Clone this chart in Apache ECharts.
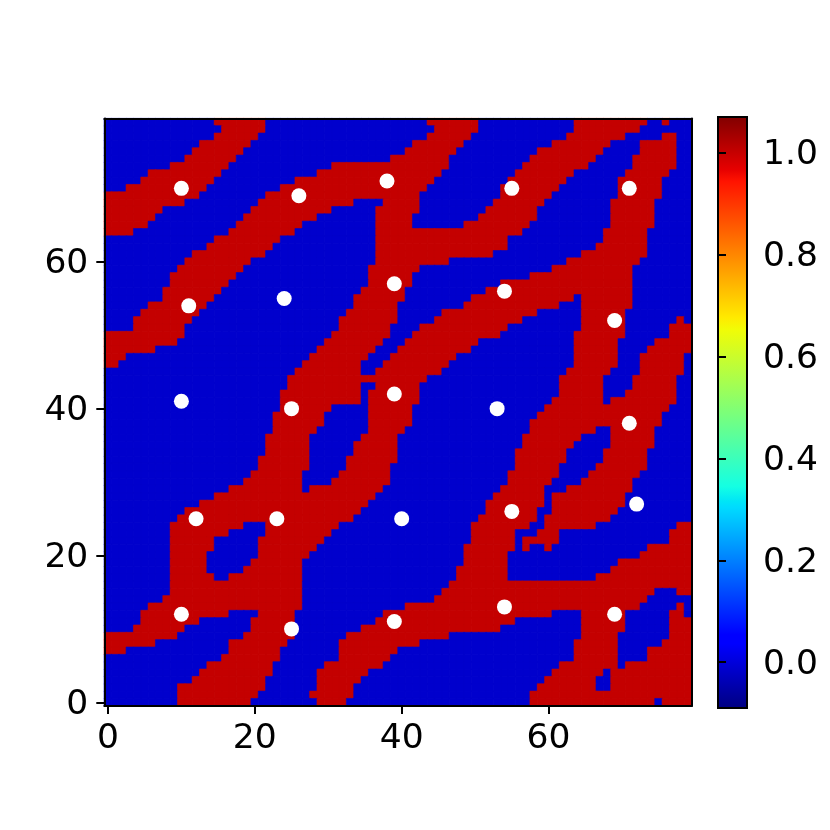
<!DOCTYPE html>
<html><head><meta charset="utf-8">
<style>html,body{margin:0;padding:0;background:#fff}#c{width:830px;height:830px}</style>
<script src="https://cdn.jsdelivr.net/npm/echarts@6/dist/echarts.min.js"></script>
</head><body><div id="c"></div>
<script>
// Red runs [start, end) per image row, top row (y = 79) first
const redRuns = [
[15,22,44,51,64,74,76,77],
[16,22,45,51,64,73],
[15,21,44,50,63,71,76,78],
[13,20,42,49,61,69,73,78],
[12,19,41,48,59,68,73,78],
[11,18,39,47,58,67,72,78],
[9,17,31,47,57,66,72,78],
[6,16,29,46,56,64,71,77],
[5,15,26,45,55,63,70,76],
[3,14,24,44,54,62,70,76],
[0,13,22,43,54,61,70,76],
[0,11,21,34,38,43,53,60,69,75],
[0,8,20,31,37,43,52,59,69,75],
[0,7,19,29,37,42,51,59,69,75],
[0,6,18,27,37,42,49,58,69,75],
[0,4,17,26,37,57,68,74],
[15,24,37,55,68,74],
[14,23,37,55,67,74],
[12,22,37,53,65,74],
[11,20,37,47,63,73],
[10,19,36,43,61,72],
[9,18,36,42,58,72],
[9,17,36,42,54,72],
[8,16,35,41,52,72],
[8,15,34,41,50,64,65,72],
[6,14,34,40,49,62,65,72],
[5,13,33,40,46,59,65,71],
[4,12,32,40,45,57,65,71,78,79],
[4,11,32,39,43,55,65,71,77,80],
[0,11,31,39,42,54,64,71,77,80],
[0,10,30,38,41,51,64,70,75,80],
[0,7,29,37,40,50,64,70,74,80],
[0,3,28,36,39,48,64,70,73,79],
[0,2,27,35,38,47,64,70,73,79],
[26,35,37,46,63,69,73,79],
[25,44,62,68,72,78],
[25,35,37,43,62,68,72,78],
[24,35,36,43,62,68,71,78],
[24,35,36,43,61,68,69,78],
[24,31,36,42,60,77],
[23,30,36,42,59,76],
[23,30,36,42,58,76],
[23,29,36,41,58,67,69,75],
[22,28,35,40,57,65,69,75],
[22,28,34,40,57,64,69,75],
[22,28,34,40,56,63,68,74],
[21,28,33,40,56,63,68,74],
[21,28,33,39,56,62,67,74],
[20,27,32,39,55,62,66,73],
[19,27,31,39,55,61,65,72],
[17,27,28,38,54,60,63,72],
[15,37,53,60,61,71],
[13,36,52,60,61,71],
[11,35,52,59,61,70],
[10,34,51,59,60,69],
[9,19,22,32,50,58,60,67,78,80],
[9,17,22,31,50,56,59,62,77,80],
[9,15,21,30,50,56,57,62,77,80],
[9,15,21,29,49,56,57,58,60,61,74,80],
[9,14,21,28,49,55,73,80],
[9,14,20,27,49,55,70,80],
[9,14,19,27,48,55,69,80],
[9,15,17,27,48,55,67,80],
[9,27,47,80],
[9,27,46,75,78,80],
[8,27,45,74],
[6,27,41,73,78,79],
[5,17,21,26,38,61,65,71,77,79],
[5,13,20,26,37,56,65,71,77,80],
[4,11,20,26,35,54,65,71,77,80],
[0,10,19,26,33,47,65,70,77,80],
[0,7,17,25,32,43,64,70,76,80],
[0,3,17,24,32,40,64,70,74,80],
[16,24,32,39,64,70,74,80],
[14,23,30,38,62,70,71,80],
[13,23,29,36,61,68,69,80],
[12,22,29,35,60,67,69,80],
[10,22,29,34,59,67,69,80],
[10,21,28,34,58,80],
[10,20,29,33,58,75,76,80]
];
const whitePoints = [
[10,70],[26,69],[38,71],[55,70],[71,70],
[11,54],[24,55],[39,57],[54,56],[69,52],
[10,41],[25,40],[39,42],[53,40],[71,38],
[12,25],[23,25],[40,25],[55,26],[72,27],
[10,12],[25,10],[39,11],[54,13],[69,12]
];
const colorbarRange = [-0.09, 1.07];
const colorbarTicks = [0, 0.2, 0.4, 0.6, 0.8, 1.0];
const categories = Array.from({length:80}, (_, i) => String(i));
const BLUE = '#0000cd', RED = '#c40000';

const cells = [];
redRuns.forEach((runs, r) => {
  const y = 79 - r;
  for (let x = 0; x < 80; x++) {
    let v = 0;
    for (let k = 0; k < runs.length; k += 2) if (x >= runs[k] && x < runs[k+1]) v = 1;
    const c = v ? RED : BLUE;
    cells.push({value:[x, y, v], itemStyle:{color:c, borderColor:c, borderWidth:0.6}});
  }
});
const FONT = 'DejaVu Sans';
const FS = 34.5;
const line = {show:true, onZero:false, lineStyle:{color:'#000', width:2}};
const frame = (pos) => ({type:'category', data:categories, gridIndex:0, position:pos, z:6, axisLine:line,
  axisTick:{show:false}, axisLabel:{show:false}, splitLine:{show:false}});
const tick = {show:true, alignWithLabel:true, interval:19, length:8, lineStyle:{color:'#000', width:2}};
const label = {show:true, interval:19, color:'#000', fontFamily:FONT, fontSize:FS};
const shifted = {a:{color:'#000', fontFamily:FONT, fontSize:FS, padding:[5,0,0,0]}};
const jet = new echarts.graphic.LinearGradient(0,1,0,0,[
 {offset:0,color:'#000080'},{offset:0.11,color:'#0000ff'},{offset:0.125,color:'#0000ff'},
 {offset:0.34,color:'#00dbff'},{offset:0.35,color:'#00e5f7'},{offset:0.375,color:'#14ffe3'},
 {offset:0.5,color:'#7cff79'},{offset:0.64,color:'#f1fc06'},{offset:0.66,color:'#ffea00'},
 {offset:0.89,color:'#ff1300'},{offset:0.91,color:'#e60000'},{offset:1,color:'#800000'}]);

const chart = echarts.init(document.getElementById('c'), null, {renderer:'canvas'});
chart.setOption({
  animation:false, backgroundColor:'#fff',
  grid:[
    {left:104.3, top:118.6, width:587.4, height:587.4, containLabel:false},
    {left:718, top:117, width:29, height:591, containLabel:false}
  ],
  xAxis:[
    {type:'category', data:categories, gridIndex:0, position:'bottom', z:6, axisLine:line, axisTick:tick,
     axisLabel:Object.assign({margin:16}, label), splitLine:{show:false}},
    frame('top'),
    {type:'value', gridIndex:1, min:0, max:1, show:false}
  ],
  yAxis:[
    {type:'category', data:categories, gridIndex:0, position:'left', z:6, axisLine:line, axisTick:tick,
     axisLabel:Object.assign({margin:16, formatter:'{a|{value}}', rich:shifted}, label), splitLine:{show:false}},
    frame('right'),
    {type:'value', gridIndex:1, position:'right', min:colorbarRange[0], max:colorbarRange[1], z:6,
     axisLine:{show:false}, splitLine:{show:false},
     axisTick:{show:true, length:8, customValues:colorbarTicks, lineStyle:{color:'#000', width:2}},
     axisLabel:{show:true, margin:16, customValues:colorbarTicks, color:'#000', fontFamily:FONT, fontSize:FS, rich:shifted,
       formatter:(v)=>'{a|'+Number(v).toFixed(1)+'}'}}
  ],
  series:[
    {type:'heatmap', xAxisIndex:0, yAxisIndex:0, data:cells, progressive:0, emphasis:{disabled:true}},
    {type:'scatter', xAxisIndex:0, yAxisIndex:0, data:whitePoints, symbolSize:15, z:5, itemStyle:{color:'#fff', opacity:1}},
    {type:'custom', xAxisIndex:2, yAxisIndex:2, z:4, clip:false, data:[[0, colorbarRange[0], colorbarRange[1]]],
     renderItem:(params, api)=>{
       const a = api.coord([0, api.value(1)]), b = api.coord([1, api.value(2)]);
       return {type:'rect', shape:{x:a[0], y:b[1], width:b[0]-a[0], height:a[1]-b[1]},
         style:{fill:jet, stroke:'#000', lineWidth:2}};
     }}
  ]
});
</script></body></html>
